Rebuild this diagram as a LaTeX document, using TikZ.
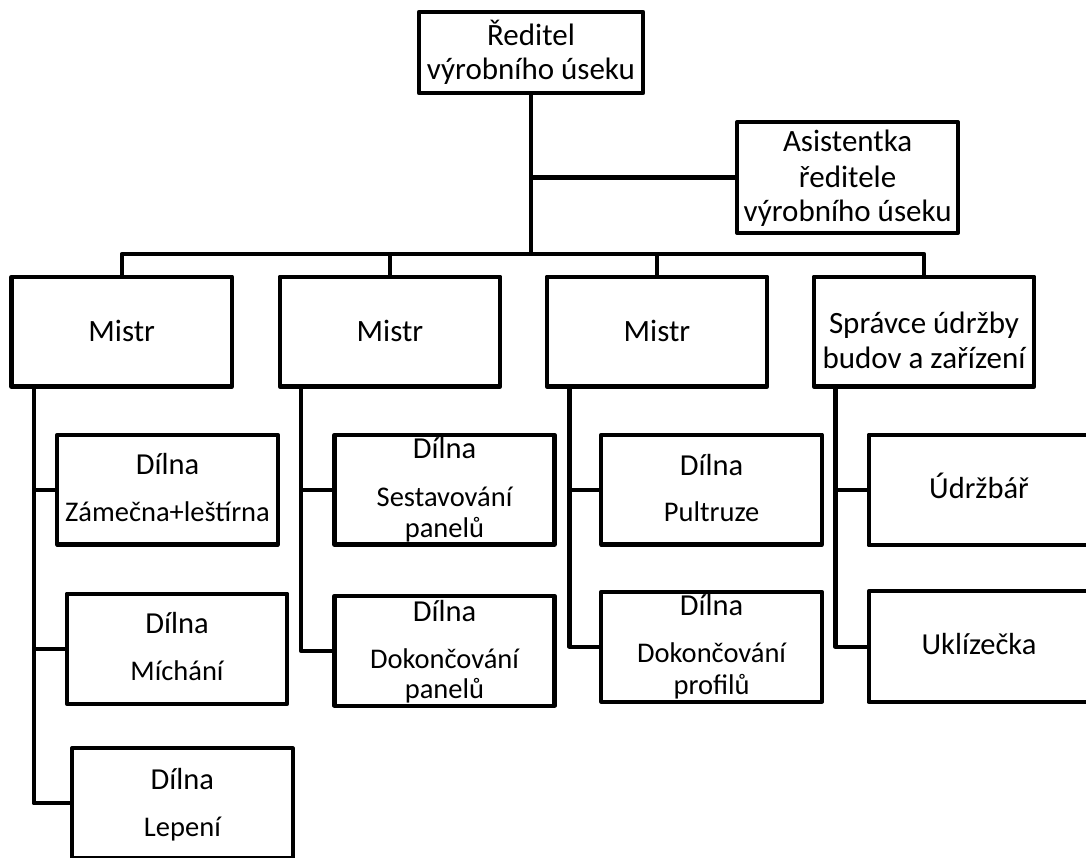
\documentclass[tikz,border=0pt]{standalone}
\usepackage{fontspec}
\setmainfont{Carlito}
% one centred text line, shifted down by #2 from the box centre, at size #1
\newcommand\tline[3]{\makebox[0pt][c]{\raisebox{-#2}[0pt][0pt]{\fontsize{#1}{#1}\selectfont #3}}}
\begin{document}
\begin{tikzpicture}[x=1pt,y=-1pt,
  box/.style={draw=black, line width=4.2pt, line join=round, rectangle,
    inner sep=0pt, fill=white, minimum width=220.5pt, minimum height=109.8pt},
  link/.style={draw=black, line width=4.2pt, line join=round}]
\fill[white] (0,0) rectangle (1086,857);
\useasboundingbox (0,0) rectangle (1086,857);

% top level
\node[box, minimum width=224pt, minimum height=81pt] (dir) at (531,52.5)
  {\tline{31pt}{-7.5pt}{Ředitel}\tline{31pt}{26.8pt}{výrobního úseku}};
\node[box, minimum height=111pt] (asst) at (847.6,177.5)
  {\tline{31pt}{-25.8pt}{Asistentka}\tline{31pt}{9.5pt}{ředitele}\tline{31pt}{44.2pt}{výrobního úseku}};

% second level
\node[box] (m1) at (121.7,331.6) {\tline{31pt}{10.1pt}{Mistr}};
\node[box] (m2) at (390,331.6) {\tline{31pt}{10.1pt}{Mistr}};
\node[box] (m3) at (657,331.6) {\tline{31pt}{10.1pt}{Mistr}};
\node[box] (m4) at (924,331.6)
  {\tline{31pt}{1.7pt}{Správce údržby}\tline{31pt}{36.4pt}{budov a zařízení}};

% workshops under the first foreman
\node[box] (zam) at (167.5,489.6)
  {\tline{30.5pt}{-14.8pt}{Dílna}\tline{28.5pt}{32.2pt}{Zámečna+leštírna}};
\node[box] (mich) at (177,648.7)
  {\tline{30.5pt}{-15.4pt}{Dílna}\tline{28.5pt}{32pt}{Míchání}};
\node[box] (lep) at (182.4,803.2)
  {\tline{30.5pt}{-13.9pt}{Dílna}\tline{28.5pt}{32.8pt}{Lepení}};

% workshops under the second foreman
\node[box, minimum width=220pt] (sest) at (444.5,489.6)
  {\tline{30.5pt}{-31.3pt}{Dílna}\tline{28.5pt}{16.4pt}{Sestavování}\tline{28.5pt}{47.7pt}{panelů}};
\node[box, minimum width=220pt] (dpan) at (444.5,650.8)
  {\tline{30.5pt}{-29.1pt}{Dílna}\tline{28.5pt}{17.5pt}{Dokončování}\tline{28.5pt}{47.5pt}{panelů}};

% workshops under the third foreman
\node[box] (pult) at (711.6,489.6)
  {\tline{30.5pt}{-14.6pt}{Dílna}\tline{28.5pt}{32.1pt}{Pultruze}};
\node[box] (dprof) at (711.6,646.7)
  {\tline{30.5pt}{-31.7pt}{Dílna}\tline{28.5pt}{16pt}{Dokončování}\tline{28.5pt}{47.3pt}{profilů}};

% staff under the maintenance manager
\node[box, minimum height=110.6pt] (udr) at (979,490) {\tline{30.5pt}{8.3pt}{Údržbář}};
\node[box, minimum height=110.7pt] (ukl) at (979,646.7) {\tline{30.5pt}{7.6pt}{Uklízečka}};

% main bus
\coordinate (bus) at (531,254);
\draw[link] (dir.south) -- (bus);
\draw[link] (asst.west) -- (asst.west -| bus);
\draw[link] (m1.north) |- (bus) -| (m4.north);
\draw[link] (m2.north) -- (m2.north |- bus);
\draw[link] (m3.north) -- (m3.north |- bus);

% column spines
\coordinate (c1) at (33.7,0);
\coordinate (c2) at (300.8,0);
\coordinate (c3) at (569.5,0);
\coordinate (c4) at (835.4,0);

\draw[link] (m1.south -| c1) |- (lep.west);
\draw[link] (zam.west -| c1) -- (zam.west);
\draw[link] (mich.west -| c1) -- (mich.west);

\draw[link] (m2.south -| c2) |- (dpan.west);
\draw[link] (sest.west -| c2) -- (sest.west);

\draw[link] (m3.south -| c3) |- (dprof.west);
\draw[link] (pult.west -| c3) -- (pult.west);

\draw[link] (m4.south -| c4) |- (ukl.west);
\draw[link] (udr.west -| c4) -- (udr.west);
\end{tikzpicture}
\end{document}
